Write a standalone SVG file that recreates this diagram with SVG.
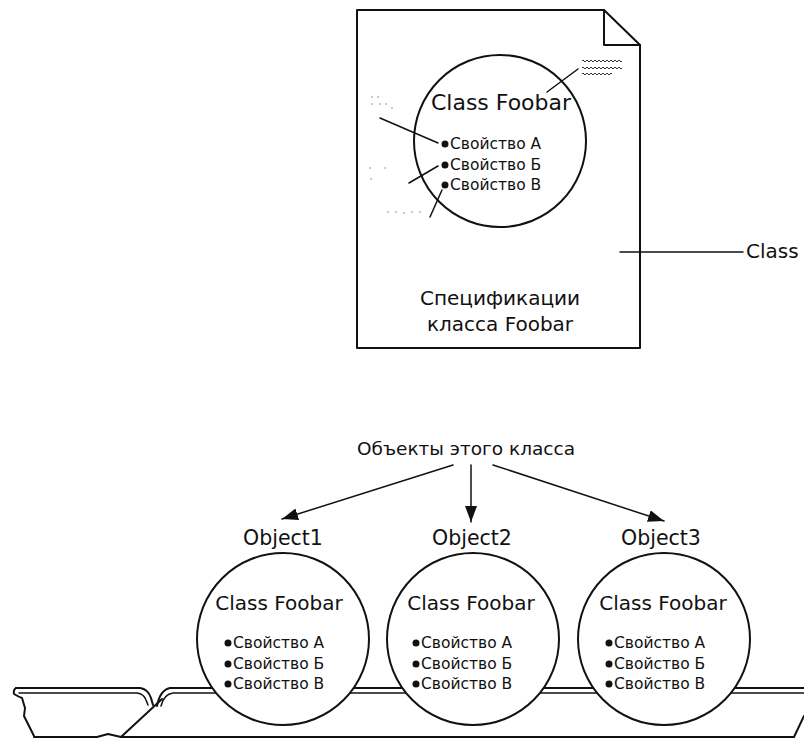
<svg xmlns="http://www.w3.org/2000/svg" width="804" height="738" viewBox="0 0 804 738">
<defs>
<style>
.ln{fill:none;stroke:#111;stroke-width:2;stroke-linecap:round;stroke-linejoin:round}
.thin{fill:none;stroke:#111;stroke-width:1.5;stroke-linecap:round}
.circ{fill:#fff;stroke:#111;stroke-width:2}
.t{font-family:"DejaVu Sans","Liberation Sans",sans-serif;fill:#111}
.prop{font-size:15.5px}
.lbl{font-size:20.5px}
.dot{fill:#111}
.faint{fill:#bbb}
.sq{fill:none;stroke:#333;stroke-width:1}
</style>
<marker id="arr" viewBox="0 0 16 12" refX="16" refY="6" markerWidth="16" markerHeight="12" markerUnits="userSpaceOnUse" orient="auto">
<path d="M0,0 L16,6 L0,12 Z" fill="#111"/>
</marker>
</defs>
<rect width="804" height="738" fill="#fff"/>

<g id="class-spec">
<path class="ln" d="M357,10 L604,10 L640,45 L640,348 L357,348 Z" fill="#fff"/>
<path class="ln" d="M604,10 L604,45 L640,45"/>
<circle class="circ" cx="500" cy="141" r="86"/>
<text class="t" font-size="22" x="501" y="110" text-anchor="middle">Class Foobar</text>
<circle class="dot" cx="445" cy="144" r="3.5"/>
<text class="t prop" x="450" y="149">Свойство А</text>
<circle class="dot" cx="445" cy="165" r="3.5"/>
<text class="t prop" x="450" y="170">Свойство Б</text>
<circle class="dot" cx="445" cy="185" r="3.5"/>
<text class="t prop" x="450" y="190">Свойство В</text>
<text class="t" font-size="20" x="500" y="305" text-anchor="middle">Спецификации</text>
<text class="t" font-size="20" x="500" y="331" text-anchor="middle">класса Foobar</text>
<path class="thin" d="M380,118 L438,143"/>
<path class="thin" d="M409,183 L438,166"/>
<path class="thin" d="M430,217 L442,190"/>
<path class="thin" d="M547,92 L578,69"/>
<path class="sq" d="M582,61 q1,-2 2,0 t2,0 t2,0 t2,0 t2,0 t2,0 t2,0 t2,0 t2,0 t2,0 t2,0 t2,0 t2,0 t2,0 t2,0 t2,0 t2,0 t2,0 t2,0 t2,0"/>
<path class="sq" d="M582,68 q1,-2 2,0 t2,0 t2,0 t2,0 t2,0 t2,0 t2,0 t2,0 t2,0 t2,0 t2,0 t2,0 t2,0 t2,0 t2,0 t2,0 t2,0 t2,0 t2,0 t2,0"/>
<path class="sq" d="M582,74 q1,-2 2,0 t2,0 t2,0 t2,0 t2,0 t2,0 t2,0 t2,0 t2,0 t2,0 t2,0 t2,0 t2,0 t2,0 t2,0"/>
<g class="faint">
<circle cx="372" cy="97" r="1"/><circle cx="378" cy="97" r="1"/><circle cx="372" cy="104" r="1"/><circle cx="380" cy="104" r="1"/><circle cx="386" cy="104" r="1"/><circle cx="392" cy="108" r="1"/>
<circle cx="370" cy="168" r="1"/><circle cx="385" cy="168" r="1"/><circle cx="371" cy="179" r="1"/>
<circle cx="388" cy="212" r="1"/><circle cx="396" cy="212" r="1"/><circle cx="404" cy="213" r="1"/><circle cx="412" cy="212" r="1"/><circle cx="420" cy="212" r="1"/>
</g>
</g>

<g id="class-label">
<path class="thin" d="M620,252 L743,252"/>
<text class="t" font-size="20" x="746" y="258">Class</text>
</g>

<g id="tray">
<path class="ln" d="M16,688 L140,688 Q148,689 151,698 L153,705"/>
<path class="thin" d="M19,693 L137,693 Q144,694 146,700 L148,705"/>
<path class="ln" d="M157,706 Q160,690 170,688 L804,688"/>
<path class="thin" d="M161,706 Q164,694 173,693 L804,693"/>
<path class="ln" d="M16,688 Q13,690 14,694 Q19,697 22,698 L25,708 L24,716 L28,724 L34,736"/>
<path class="ln" d="M162,699 L121,737"/>
<path class="ln" d="M34,737 L97,737 L108,734 L121,737 L794,737 L804,716"/>
</g>

<g id="objects-label">
<text class="t" font-size="18.5" x="466" y="455" text-anchor="middle">Объекты этого класса</text>
</g>

<g id="connectors">
<path class="thin" d="M453,465 L282,519" marker-end="url(#arr)"/>
<path class="thin" d="M471,465 L471,522" marker-end="url(#arr)"/>
<path class="thin" d="M493,465 L664,521" marker-end="url(#arr)"/>
</g>

<g id="object1">
<text class="t lbl" x="283" y="545" text-anchor="middle">Object1</text>
<circle class="circ" cx="283" cy="639" r="86"/>
<text class="t" font-size="20" x="279" y="610" text-anchor="middle">Class Foobar</text>
<circle class="dot" cx="228" cy="643" r="3.5"/>
<text class="t prop" x="233" y="648">Свойство А</text>
<circle class="dot" cx="228" cy="664" r="3.5"/>
<text class="t prop" x="233" y="669">Свойство Б</text>
<circle class="dot" cx="228" cy="684" r="3.5"/>
<text class="t prop" x="233" y="689">Свойство В</text>
</g>

<g id="object2">
<text class="t lbl" x="472" y="545" text-anchor="middle">Object2</text>
<circle class="circ" cx="473" cy="639" r="86"/>
<text class="t" font-size="20" x="471" y="610" text-anchor="middle">Class Foobar</text>
<circle class="dot" cx="416" cy="643" r="3.5"/>
<text class="t prop" x="421" y="648">Свойство А</text>
<circle class="dot" cx="416" cy="664" r="3.5"/>
<text class="t prop" x="421" y="669">Свойство Б</text>
<circle class="dot" cx="416" cy="684" r="3.5"/>
<text class="t prop" x="421" y="689">Свойство В</text>
</g>

<g id="object3">
<text class="t lbl" x="661" y="545" text-anchor="middle">Object3</text>
<circle class="circ" cx="664" cy="639" r="86"/>
<text class="t" font-size="20" x="663" y="610" text-anchor="middle">Class Foobar</text>
<circle class="dot" cx="609" cy="643" r="3.5"/>
<text class="t prop" x="614" y="648">Свойство А</text>
<circle class="dot" cx="609" cy="664" r="3.5"/>
<text class="t prop" x="614" y="669">Свойство Б</text>
<circle class="dot" cx="609" cy="684" r="3.5"/>
<text class="t prop" x="614" y="689">Свойство В</text>
</g>
</svg>
